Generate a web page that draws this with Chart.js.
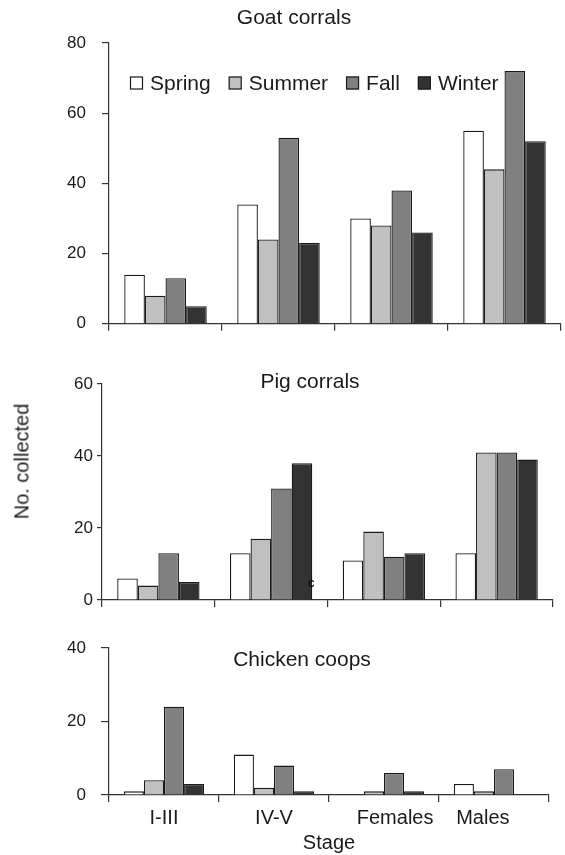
<!DOCTYPE html>
<html>
<head>
<meta charset="utf-8">
<script src="https://cdn.jsdelivr.net/npm/chart.js@4/dist/chart.umd.min.js"></script>
<style>
	body { margin: 0; background: #fff; }
	#khung { position: relative; width: 565px; height: 855px; overflow: hidden; }
	#khung canvas { position: absolute; left: 0; }
	#nhanTrucY {
		position: absolute; left: -78px; top: 450px; width: 200px; line-height: 24px;
		text-align: center; font: 20px "Liberation Sans", Arial, sans-serif; color: #1a1a1a;
		transform: rotate(-90deg);
	}
	#vet { position: absolute; left: 308px; top: 575px; font: 13px "Liberation Sans", Arial, sans-serif; color: #000; }
</style>
</head>
<body>
<div id="khung">
	<canvas id="goat" width="565" height="350" style="top:0px"></canvas>
	<canvas id="pig" width="565" height="265" style="top:350px"></canvas>
	<canvas id="chicken" width="565" height="240" style="top:615px"></canvas>
	<div id="nhanTrucY">No. collected</div>
	<span id="vet">c</span>
</div>
<script>
var stages = ['I-III', 'IV-V', 'Females', 'Males'];
var seasons = ['Spring', 'Summer', 'Fall', 'Winter'];
var seasonColors = ['#ffffff', '#c0c0c0', '#808080', '#333333'];

// Goat corrals
var goatSpring = [14, 34, 30, 55];
var goatSummer = [8, 24, 28, 44];
var goatFall = [13, 53, 38, 72];
var goatWinter = [5, 23, 26, 52];

// Pig corrals
var pigSpring = [6, 13, 11, 13];
var pigSummer = [4, 17, 19, 41];
var pigFall = [13, 31, 12, 41];
var pigWinter = [5, 38, 13, 39];

// Chicken coops
var chickenSpring = [1, 11, 0, 3];
var chickenSummer = [4, 2, 1, 1];
var chickenFall = [24, 8, 6, 7];
var chickenWinter = [3, 1, 1, 0];

var yMaxGoat = 80;
var yMaxPig = 60;
var yMaxChicken = 40;
var yStep = 20;

Chart.defaults.font.family = '"Liberation Sans", Arial, Helvetica, sans-serif';
Chart.defaults.color = '#1a1a1a';

var inkColor = '#1a1a1a';
var lineColor = '#333333';

// in the original the last two stage names sit a bit off centre
var nudgeLeft = [0, 0, 4, 0];
var nudgeRight = [0, 0, 0, 4];

// panel title + the in-plot legend of the first panel
var panelText = {
	id: 'panelText',
	afterDraw: (chart, args, opts) => {
		var ctx = chart.ctx;
		ctx.save();
		ctx.font = '21px "Liberation Sans", Arial, sans-serif';
		ctx.fillStyle = inkColor;
		ctx.textAlign = 'center';
		ctx.textBaseline = 'middle';
		ctx.fillText(opts.title, opts.titleX, opts.titleY);
		if (opts.legend) {
			var x = opts.legendX;
			var y = opts.legendY;
			ctx.textAlign = 'left';
			chart.data.datasets.forEach(ds => {
				ctx.fillStyle = ds.backgroundColor;
				ctx.fillRect(x, y - 6.5, 13, 13);
				ctx.strokeStyle = inkColor;
				ctx.lineWidth = 1.2;
				ctx.strokeRect(x + 0.5, y - 6, 12, 12);
				ctx.fillStyle = inkColor;
				ctx.fillText(ds.label, x + 20, y + 1);
				x += 20 + ctx.measureText(ds.label).width + 18;
			});
		}
		ctx.restore();
	}
};

function vePanel(id, series, yMax, p) {
	var datasets = [];
	for (var i = 0; i < seasons.length; i++) {
		datasets.push({
			label: seasons[i],
			data: series[i],
			backgroundColor: seasonColors[i],
			borderColor: inkColor,
			borderWidth: 1.3,
			categoryPercentage: 0.73,
			barPercentage: 1
		});
	}
	return new Chart(document.getElementById(id).getContext('2d'), {
		type: 'bar',
		data: { labels: stages, datasets: datasets },
		options: {
			responsive: false,
			animation: false,
			layout: { padding: { top: p.top, right: p.right, left: 0, bottom: 0 } },
			plugins: {
				legend: { display: false },
				tooltip: { enabled: false },
				panelText: p.text
			},
			scales: {
				x: {
					grid: { drawOnChartArea: false, drawTicks: true, tickLength: 7, color: lineColor, lineWidth: 1.2, offset: true },
					border: { display: true, color: lineColor, width: 1.2 },
					ticks: {
						display: p.xLabels, font: { size: 20 }, color: inkColor, padding: 4, maxRotation: 0, autoSkip: false,
						callback: (value, index) => ' '.repeat(nudgeLeft[index]) + stages[index] + ' '.repeat(nudgeRight[index])
					},
					title: { display: p.xLabels, text: 'Stage', font: { size: 20 }, color: inkColor, padding: 0 },
					afterFit: scale => { scale.height = p.xHeight; }
				},
				y: {
					min: 0,
					max: yMax,
					ticks: { stepSize: yStep, font: { size: 17 }, color: inkColor, padding: p.labelPad },
					grid: { drawOnChartArea: false, tickLength: p.tick, color: lineColor, lineWidth: 1.2 },
					border: { display: true, color: lineColor, width: 1.2 },
					afterFit: scale => { scale.width = p.left; }
				}
			}
		},
		plugins: [panelText]
	});
}

vePanel('goat', [goatSpring, goatSummer, goatFall, goatWinter], yMaxGoat, {
	top: 43, right: 4, left: 109, xHeight: 15, xLabels: false, tick: 7, labelPad: 16,
	text: { title: 'Goat corrals', titleX: 294, titleY: 18, legend: true, legendX: 130, legendY: 83 }
});

vePanel('pig', [pigSpring, pigSummer, pigFall, pigWinter], yMaxPig, {
	top: 34, right: 12, left: 102, xHeight: 15, xLabels: false, tick: 5, labelPad: 4,
	text: { title: 'Pig corrals', titleX: 310, titleY: 32, legend: false }
});

vePanel('chicken', [chickenSpring, chickenSummer, chickenFall, chickenWinter], yMaxChicken, {
	top: 33, right: 16, left: 109, xHeight: 60, xLabels: true, tick: 8, labelPad: 15,
	text: { title: 'Chicken coops', titleX: 302, titleY: 45, legend: false }
});
</script>
</body>
</html>
